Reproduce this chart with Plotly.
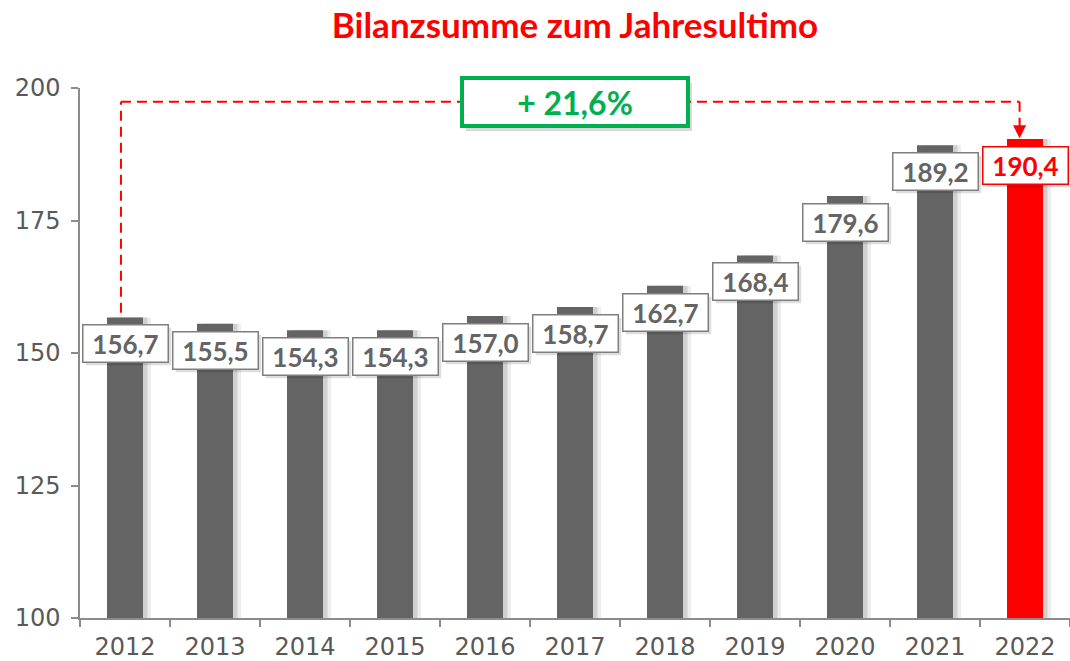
import plotly.graph_objects as go

years = ["2012", "2013", "2014", "2015", "2016", "2017", "2018", "2019", "2020", "2021", "2022"]
values = [156.7, 155.5, 154.3, 154.3, 157.0, 158.7, 162.7, 168.4, 179.6, 189.2, 190.4]
labels = ["156,7", "155,5", "154,3", "154,3", "157,0", "158,7", "162,7", "168,4", "179,6", "189,2", "190,4"]
growth_label = "+ 21,6%"
title = "Bilanzsumme zum Jahresultimo"

GRAY = "#646464"
RED = "#FF0000"
GREEN = "#00B050"
bar_colors = [GRAY] * (len(years) - 1) + [RED]

W, H = 1070, 661

fig = go.Figure()
# soft shadows right of bars
fig.add_trace(go.Bar(x=years, y=values, width=0.4, offset=-0.2 + 0.09,
                     marker=dict(color="rgba(0,0,0,0.07)", line=dict(width=0)),
                     hoverinfo="skip", showlegend=False))
fig.add_trace(go.Bar(x=years, y=values, width=0.4, offset=-0.2 + 0.05,
                     marker=dict(color="rgba(0,0,0,0.12)", line=dict(width=0)),
                     hoverinfo="skip", showlegend=False))
fig.add_trace(go.Bar(x=years, y=values, width=0.4, offset=-0.2,
                     marker=dict(color=bar_colors, line=dict(width=0)),
                     showlegend=False))

annotations = []
for i, (v, lab) in enumerate(zip(values, labels)):
    is_last = i == len(years) - 1
    col = RED if is_last else GRAY
    # shadow box (no text)
    annotations.append(dict(x=i, y=v, xref="x", yref="y", text=" ", showarrow=False,
                            yanchor="top", yshift=-10, xshift=3,
                            font=dict(family="Lato", size=26, color="rgba(0,0,0,0)"),
                            bgcolor="rgba(0,0,0,0.13)", bordercolor="rgba(0,0,0,0)",
                            borderwidth=1.5, borderpad=2, width=80, height=32))
    annotations.append(dict(x=i, y=v, xref="x", yref="y", text="<b>%s</b>" % lab, showarrow=False,
                            yanchor="top", yshift=-7,
                            font=dict(family="Lato", size=26, color=col),
                            bgcolor="white", bordercolor=RED if is_last else "#7F7F7F",
                            borderwidth=1.5, borderpad=2, width=80, height=32))

top_y = 197.4
x_left = -0.045
x_right = len(years) - 1 - 0.06

shapes = [
    dict(type="line", xref="x", yref="y", x0=x_left, x1=x_left, y0=157.6, y1=top_y,
         line=dict(color=RED, width=2, dash="10px,6px")),
    dict(type="line", xref="x", yref="y", x0=x_left, x1=x_right, y0=top_y, y1=top_y,
         line=dict(color=RED, width=2, dash="10px,6px")),
    dict(type="line", xref="x", yref="y", x0=x_right, x1=x_right, y0=top_y, y1=193.6,
         line=dict(color=RED, width=2, dash="10px,6px")),
]

# arrow head
annotations.append(dict(x=x_right, y=190.5, ax=x_right, ay=194.0, xref="x", yref="y",
                        axref="x", ayref="y", text="", showarrow=True, arrowhead=2,
                        arrowsize=1.3, arrowwidth=2, arrowcolor=RED))

# growth box shadow + box
annotations.append(dict(x=5, y=top_y, xref="x", yref="y", text=" ",
                        showarrow=False, xshift=4, yshift=-5,
                        font=dict(family="Lato", size=32, color="rgba(0,0,0,0)"),
                        bgcolor="rgba(0,0,0,0.15)", bordercolor="rgba(0,0,0,0)",
                        borderwidth=4, borderpad=2, width=218, height=40))
annotations.append(dict(x=5, y=top_y, xref="x", yref="y", text="<b>%s</b>" % growth_label,
                        showarrow=False,
                        font=dict(family="Lato", size=32, color=GREEN),
                        bgcolor="white", bordercolor=GREEN,
                        borderwidth=4, borderpad=2, width=218, height=40))

fig.update_layout(
    width=W, height=H,
    margin=dict(l=80, r=0, t=88, b=41),
    paper_bgcolor="white", plot_bgcolor="white",
    barmode="overlay",
    title=dict(text="<b>%s</b>" % title, x=0.5, xref="paper", xanchor="center",
               y=1 - 26 / H, yref="container", yanchor="middle",
               font=dict(family="Lato", size=35, color=RED)),
    xaxis=dict(type="category", categoryorder="array", categoryarray=years,
               range=[-0.5, len(years) - 0.5],
               showline=True, linecolor="#8C8C8C", linewidth=1.5,
               ticks="outside", tickson="boundaries", ticklen=7, tickcolor="#8C8C8C", tickwidth=1.5,
               ticklabelstandoff=6,
               tickfont=dict(family="DejaVu Sans", size=24, color="#595959"),
               showgrid=False, zeroline=False, fixedrange=True),
    yaxis=dict(range=[100, 200], tickvals=[100, 125, 150, 175, 200],
               showline=True, linecolor="#8C8C8C", linewidth=1.5,
               ticks="outside", ticklen=7, tickcolor="#8C8C8C", tickwidth=1.5,
               ticklabelstandoff=6,
               tickfont=dict(family="DejaVu Sans", size=24, color="#595959"),
               showgrid=False, zeroline=False, fixedrange=True),
    shapes=shapes,
    annotations=annotations,
)

fig.write_html("out.html", config={"displayModeBar": False},
               post_script="document.body.style.margin='0';document.body.style.overflow='hidden';")
